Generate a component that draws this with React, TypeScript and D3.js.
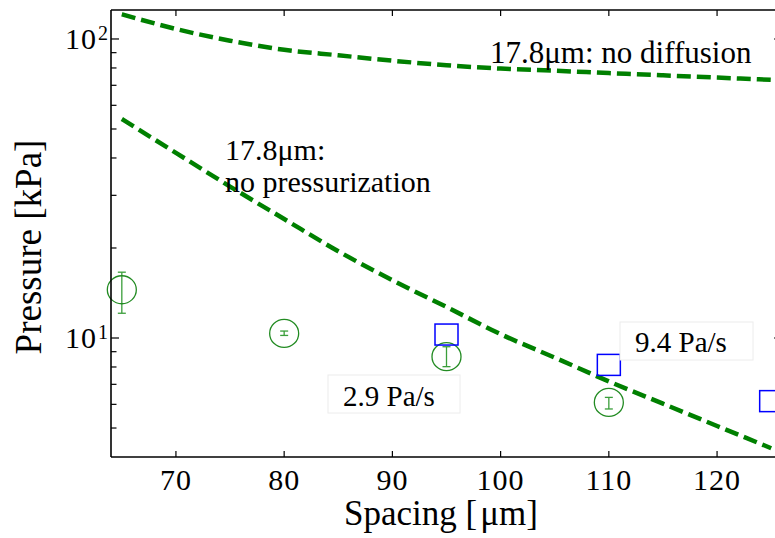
import React from "react";
import * as d3 from "d3";

// Measured pressure (kPa) vs spacing (µm)
const circleSpacing = [65, 80, 95, 110];
const circlePressure = [14.5, 10.36, 8.66, 6.09];
const circleLow = [12.1, 10.2, 8.02, 5.79];
const circleHigh = [16.6, 10.55, 9.35, 6.33];

const squareSpacing = [95, 110, 125];
const squarePressure = [10.27, 8.13, 6.15];

// Model curves for 17.8 µm
const modelSpacing = [65, 70, 75, 80, 85, 90, 95, 100, 105, 110, 115, 120, 125];
const noDiffusion = [121, 108, 98.7, 92, 88.2, 84.6, 81.7, 79.6, 78.3, 76.9, 75.6, 74.3, 73.0];
const noPressurization = [54.0, 41.6, 32.1, 25.0, 19.5, 15.6, 12.7, 10.3, 8.6, 7.16, 6.03, 5.08, 4.28];

const xTicks = [70, 80, 90, 100, 110, 120];
const yMajor = [10, 100];
const yMinor = [5, 6, 7, 8, 9, 20, 30, 40, 50, 60, 70, 80, 90];

const W = 775;
const H = 538;
const left = 111;
const right = 782;
const top = 10;
const bottom = 457;
const FAMILY = "Liberation Serif";
const GREEN = "#008000";

function Label(props: {
  x?: number;
  y?: number;
  size: number;
  anchor?: string;
  spacing?: number;
  transform?: string;
  children: React.ReactNode;
}) {
  return (
    <text
      x={props.x}
      y={props.y}
      transform={props.transform}
      fontFamily={FAMILY}
      fontSize={props.size}
      textAnchor={props.anchor || "start"}
      letterSpacing={props.spacing || 0}
      className="lbl"
      style={{ fontFamily: `"${FAMILY}"`, fontSize: props.size }}
    >
      {props.children}
    </text>
  );
}

export default function App() {
  const x = d3.scaleLinear().domain([64, 126]).range([left, right]);
  const y = d3.scaleLog().domain([4, 125]).range([bottom, top]);

  const line = d3
    .line<number>()
    .x((_, i) => x(modelSpacing[i]))
    .y((d) => y(d))
    .curve(d3.curveMonotoneX);

  return (
    <svg width={W} height={H} style={{ position: "absolute", left: 0, top: 0, background: "#fff" }}>
      <style>{`.lbl { font-family: "${FAMILY}", serif; }`}</style>

      {/* model curves */}
      <path d={line(noDiffusion) || ""} fill="none" stroke={GREEN} strokeWidth={4.5} strokeDasharray="14 6" />
      <path d={line(noPressurization) || ""} fill="none" stroke={GREEN} strokeWidth={4.5} strokeDasharray="14 6" />

      {/* circles with error bars */}
      {circleSpacing.map((s, i) => {
        const cx = x(s);
        return (
          <g key={"c" + i}>
            <line x1={cx} x2={cx} y1={y(circleLow[i])} y2={y(circleHigh[i])} stroke="#3a9e3a" strokeWidth={1.3} />
            <line x1={cx - 4} x2={cx + 4} y1={y(circleLow[i])} y2={y(circleLow[i])} stroke="#3a9e3a" strokeWidth={1.3} />
            <line x1={cx - 4} x2={cx + 4} y1={y(circleHigh[i])} y2={y(circleHigh[i])} stroke="#3a9e3a" strokeWidth={1.3} />
            <ellipse cx={cx} cy={y(circlePressure[i])} rx={14.5} ry={14} fill="none" stroke="#228b22" strokeWidth={1.3} />
          </g>
        );
      })}

      {/* squares */}
      {squareSpacing.map((s, i) => (
        <rect
          key={"s" + i}
          x={x(s) - 11.5}
          y={y(squarePressure[i]) - 10.5}
          width={23}
          height={21}
          fill="none"
          stroke="#0000ff"
          strokeWidth={1.5}
        />
      ))}

      {/* annotation boxes */}
      <rect x={328} y={375} width={132} height={38} fill="#fff" stroke="#ececec" strokeWidth={1} />
      <Label x={343} y={406} size={29}>2.9 Pa/s</Label>
      <rect x={620} y={322} width={133} height={38} fill="#fff" stroke="#ececec" strokeWidth={1} />
      <Label x={635} y={352} size={29}>9.4 Pa/s</Label>

      <Label x={490} y={63} size={31}>17.8μm: no diffusion</Label>
      <Label x={225} y={160} size={30}>17.8μm:</Label>
      <Label x={225} y={192} size={30}>no pressurization</Label>

      {/* axes frame */}
      <line x1={left} x2={right} y1={bottom} y2={bottom} stroke="#000" strokeWidth={1.6} />
      <line x1={left} x2={right} y1={top} y2={top} stroke="#000" strokeWidth={1.6} />
      <line x1={left} x2={left} y1={top} y2={bottom} stroke="#000" strokeWidth={1.6} />
      <line x1={right} x2={right} y1={top} y2={bottom} stroke="#000" strokeWidth={1.6} />

      {/* x ticks */}
      {xTicks.map((t) => (
        <g key={"xt" + t}>
          <line x1={x(t)} x2={x(t)} y1={bottom} y2={bottom - 6} stroke="#000" strokeWidth={1.2} />
          <line x1={x(t)} x2={x(t)} y1={top} y2={top + 6} stroke="#000" strokeWidth={1.2} />
          <Label x={x(t)} y={490} size={30} anchor="middle" spacing={1}>
            {t}
          </Label>
        </g>
      ))}

      {/* y ticks */}
      {yMajor.map((t) => (
        <g key={"ym" + t}>
          <line x1={left} x2={left + 8} y1={y(t)} y2={y(t)} stroke="#000" strokeWidth={1.2} />
          <line x1={right} x2={right - 8} y1={y(t)} y2={y(t)} stroke="#000" strokeWidth={1.2} />
          <Label x={97} y={y(t) + 10} size={30} anchor="end" spacing={1}>
            10
          </Label>
          <Label x={98} y={y(t) + 1} size={20}>
            {Math.round(Math.log10(t))}
          </Label>
        </g>
      ))}
      {yMinor.map((t) => (
        <g key={"yn" + t}>
          <line x1={left} x2={left + 5.5} y1={y(t)} y2={y(t)} stroke="#000" strokeWidth={1.2} />
          <line x1={right} x2={right - 5.5} y1={y(t)} y2={y(t)} stroke="#000" strokeWidth={1.2} />
        </g>
      ))}

      {/* axis labels */}
      <Label x={441} y={525} size={35} anchor="middle">
        Spacing [<tspan dx={3}>μm]</tspan>
      </Label>
      <Label transform="translate(41,247) rotate(-90)" size={37} anchor="middle">
        Pressure [kPa]
      </Label>
    </svg>
  );
}
